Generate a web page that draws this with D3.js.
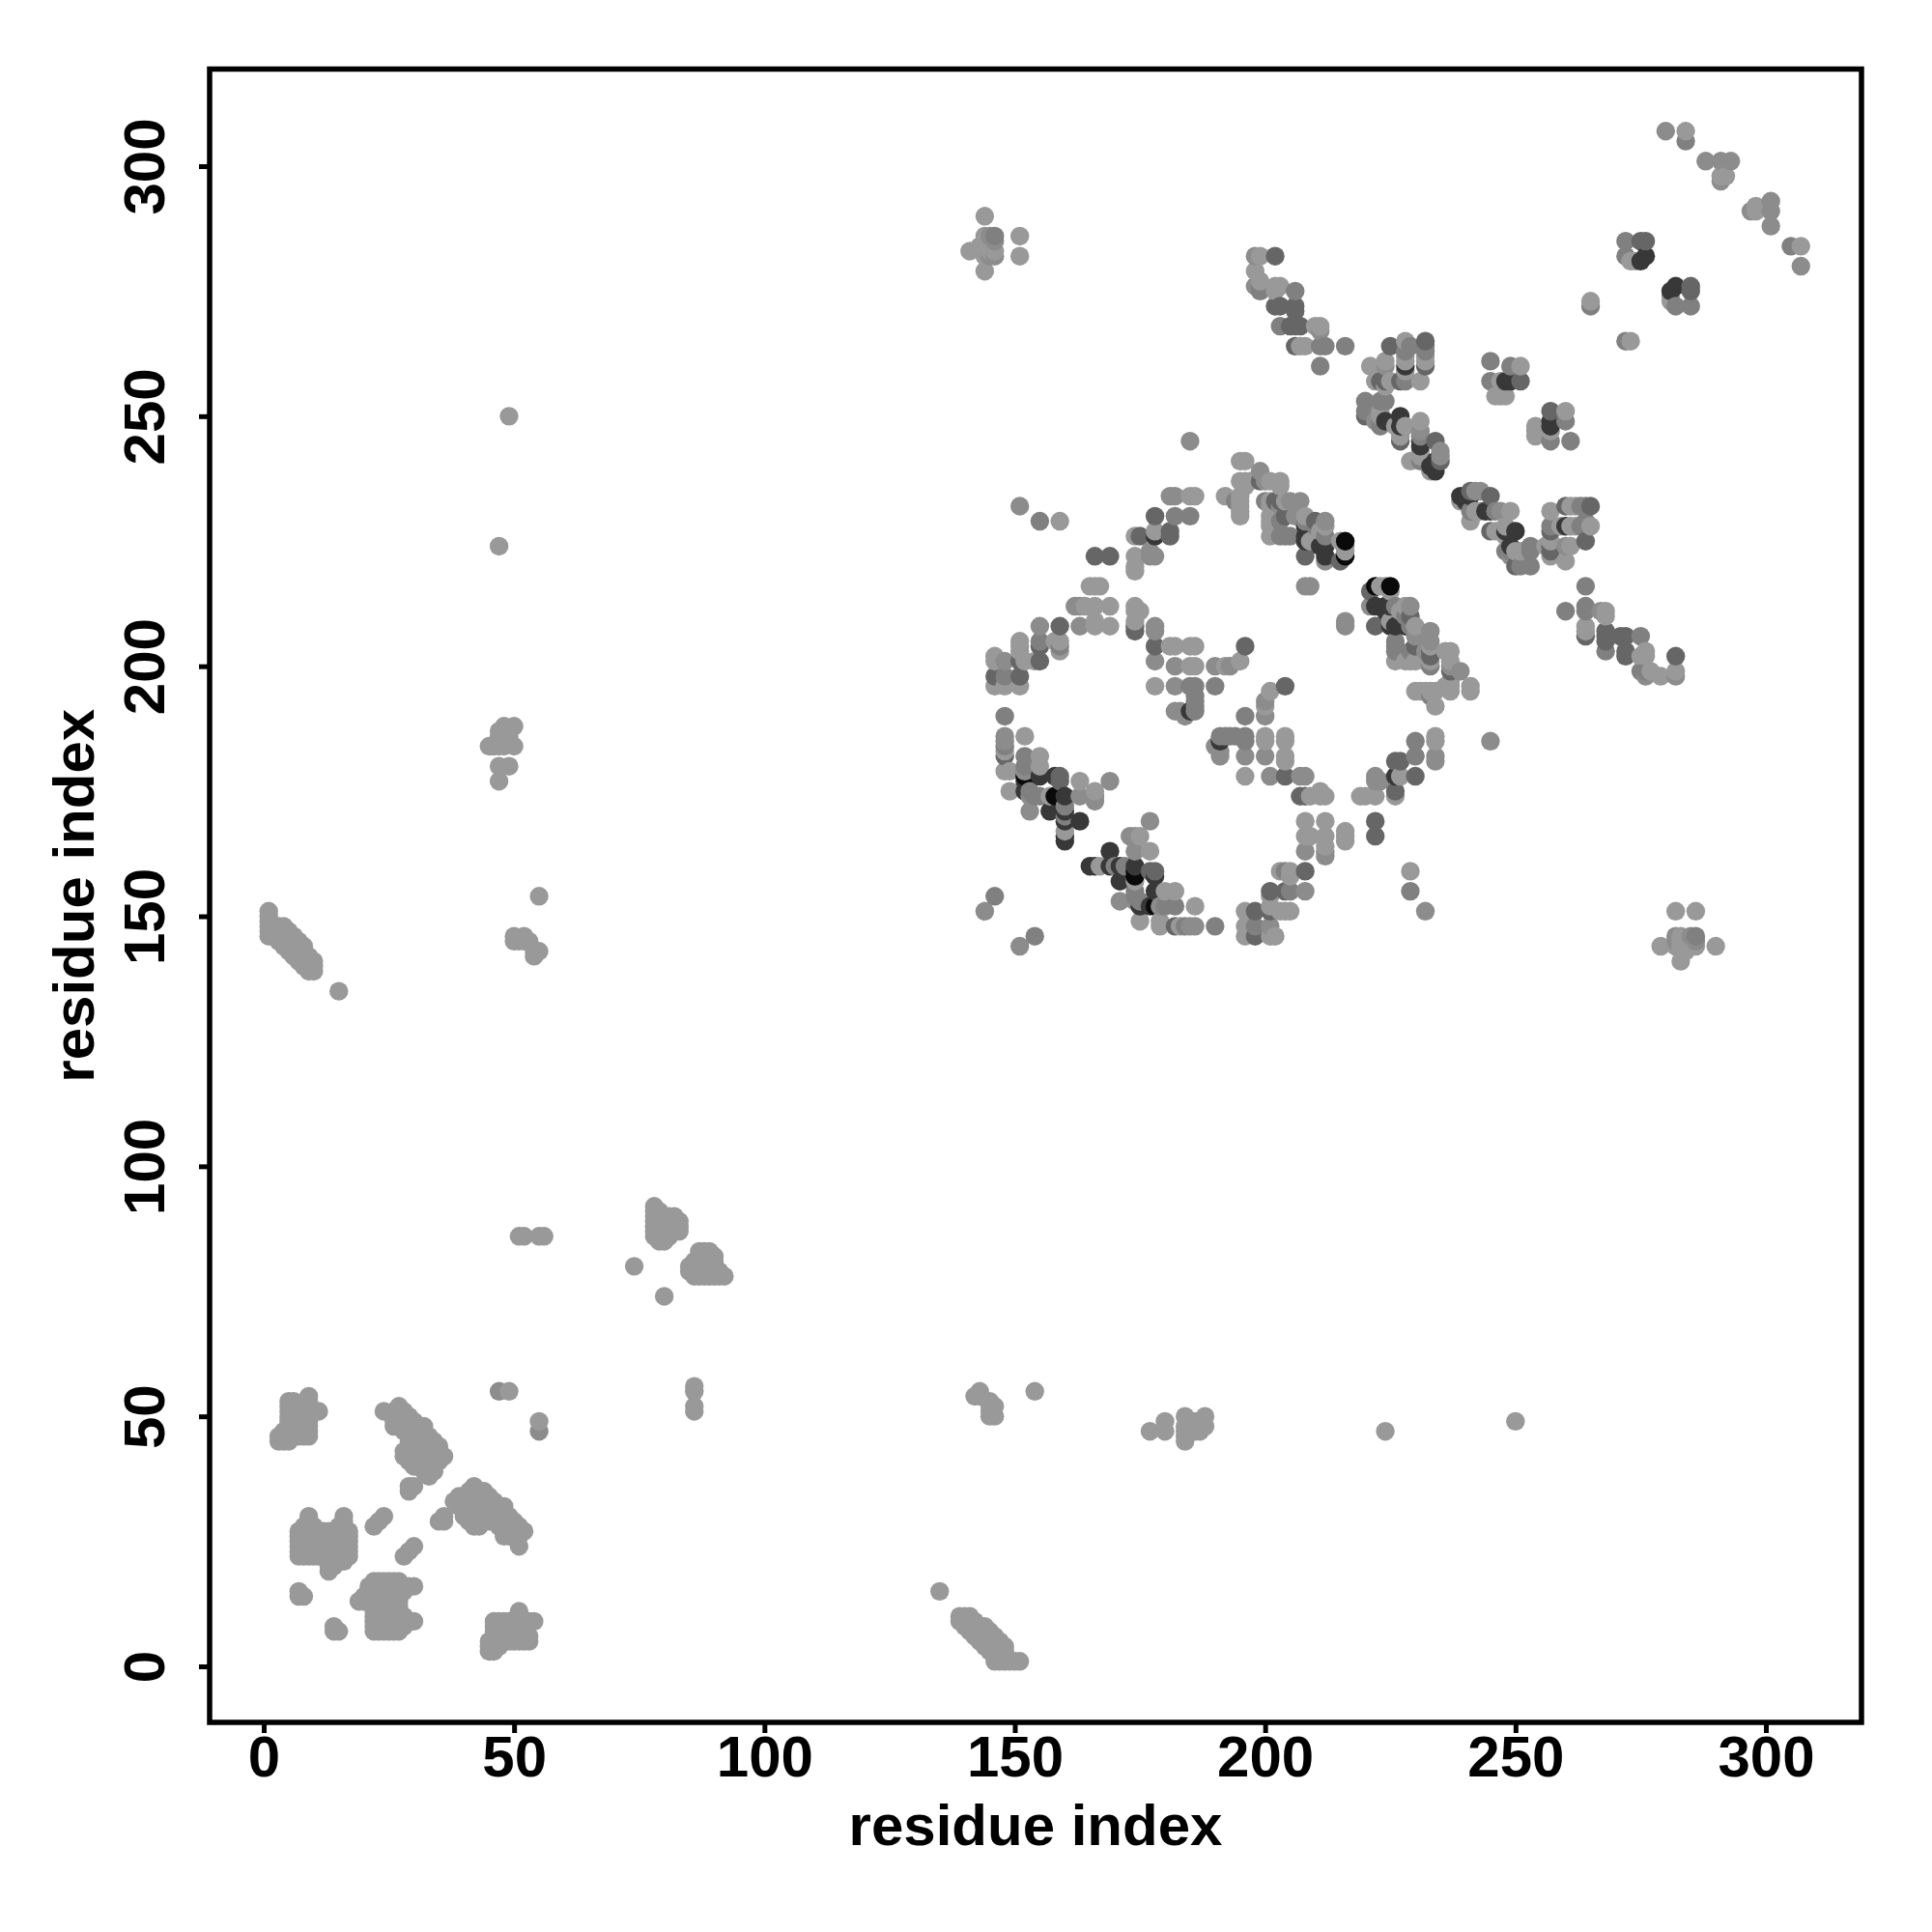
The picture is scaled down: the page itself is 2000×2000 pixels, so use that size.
<!DOCTYPE html>
<html><head><meta charset="utf-8">
<script src="https://cdn.jsdelivr.net/npm/d3@7"></script>
<style>html,body{margin:0;padding:0;background:#fff}</style>
</head><body><svg id="chart" width="2000" height="2000"></svg>
<script>
// Contacts. Each row: residue i, then the residues j in contact with it. The map is symmetric.
const tickValues = [0, 50, 100, 150, 200, 250, 300];
const axisTitle = "residue index";
const tierLevels = [0.6, 0.55, 0.5, 0.4, 0.22, 0.04]; // grey level per contact tier

const tier0 = [
[3,45,46],[4,45,46,47],[5,45,46,47,48,49,50,51,52,53],[6,46,47,48,49,50,51,52,53],[7,46,47,48,49,50,51,52],[8,46,47,48,49,50,51,52],[9,46,47,48,49,50,51,52,53,54],[10,51],[11,51],
[7,14,15,22,23,24,25,26,27],[8,14,22,23,24,25,26,27,28],[9,22,23,24,25,26,27,28,29,30],[10,22,23,24,25,26,27,28],[11,22,23,24,25,26,27],[12,22,23,24,25,26,27],[13,19,20,21,22,23,24,25,26,27],[14,20,21,22,23,24,25,26,27],[15,21,22,23,24,25,26,27,28],[16,21,22,23,24,25,26,27,28,29,30],[17,22,23,24,25,26,27],
[22,28],[23,29],[24,30,51],[26,48,49,50,51],[27,48,49,50,51,52],[28,42,43,47,48,49,50,51],[29,35,36,41,42,43,44,45,46,47,48,49,50],[30,36,40,41,42,43,44,45,46,47,48,49],[31,40,41,42,43,44,45,46,47,48],[32,39,40,41,42,44,45,46,47,48],[33,38,39,40,41,42,43,44,45,46],[34,39,40,41,42,43,44,45],[35,41,42,43,44],[36,42],
[1,146,147,148,149,150,151],[2,146,147,148],[3,145,146,147,148],[4,144,145,146,147,148],[5,143,144,145,146,147],[6,142,143,144,145,146],[7,141,142,143,144,145],[8,140,141,142,143,144],[9,139,140,141,142],[10,139,140,141],[15,135],
[45,184],[46,184],[47,177,180,184,186,187,224],[48,184,185,188],[49,55,180,186,187,250],[50,145,146,184,188],[51,86,145],[52,86,145,146],[53,145],[54,142,143],[55,86,143,154],[56,86],
[74,80],[78,86,87,88,89,90,91,92],[79,85,86,87,88,89,90,91],[80,85,86,87,88,89,90],[81,86,87,88,89,90],[82,87,88,89,90],[83,87,88,89],
[141,283],[143,284],[144,279,282,283,286,290],[145,283,284],[146,283],[151,282,286],
[146,196,201,202],[148,179,183,196],[149,175,179],[151,196,203,204,205],[152,186,201],[154,201],[155,180,182],[157,174],[158,205],[159,203,205,229],[160,167],[163,177],[164,212],[165,216],[166,175,208,209,212,216],[167,216],[169,208,212],[174,209,211,212,219,220,222,226],[175,211],[177,222,223],[178,196],[181,204,234],[182,204,234],[185,200,204,234],[186,200,204,234],
[192,200,234],[195,201,230,231,232,233,234,237,241],[196,236,237,241],[197,237],[201,226,229,230,232,237],[203,237],[204,233],[205,233],[207,233],[208,230],[209,225],[212,228,229],[215,225],[216,223],
[224,216],[227,178,211],[226,201],[228,201,248,259,261,265],[230,195,201,208],[233,195,200,201],[234,185,186,192,195],[236,203],[237,195,196,200,203],[241,195,196],[219,174],[222,174],[226,174],
[198,279],[199,275,277,282],[202,276],[203,276],[207,264],[208,264],[210,268],[211,268],[212,264],
[221,260],[222,257],[223,248,250],[226,248],[225,257],[227,246],[231,243,249,257],[232,261,262],[233,239],[235,243],
[239,233],[241,229],[242,231],[246,227,254],[247,254,257],[248,254],[249,231],[251,220,223,260],[254,246,247,248],[256,224],[257,228,231,247],[260,221,224,251],[261,224],[262,228,232],[265,228,273],
[264,207],[268,210,211],[275,202],[276,198],[279,198],[282,198],[273,265,281],[274,281],[284,307],[292,298],[291,298]
];
const tier1 = [
[47,55],[148,185,186,201],[152,179],[153,171,174],[155,208],[162,212],[163,174,208,212],[166,173,174],[169,177],[151,232],[144,151],[185,245],
[145,282,286],[146,282,285],
[178,201,207,208],[182,191,196,200],[183,191],[184,190],[190,200],[193,200],[199,239],[200,237],[203,232],
[208,216],[209,216],[216,208,209],[221,212],[226,205,212],[229,212],[233,205,207],[230,206],[239,199],[222,177,178],[223,177],[234,181,182],
[198,276,282],[203,268],[216,264],[211,260,267],[224,260],[220,253],[231,247],[242,235],[243,235],[241,231],[249,222],[257,245],[280,307],[288,301],[291,297,301],[293,301]
];
const tier2 = [
[146,154],[155,229],[146,286],[148,184,190],[152,180,182],[153,175],[154,174],[155,174,205],[159,204],[160,170,172],[148,198],
[185,196],[186,191,192,193,194,196],[190,196],[200,233],[205,226],[203,226,229],[208,222,229],[210,228],[212,226],[215,221],
[226,204],[233,194],[230,182,185],
[199,276],[202,272,282],[206,275],[211,264],[229,264],[232,263],[224,253],[227,245],[228,257],[231,241],[220,250,251],
[245,234,257,261],[246,231],[248,223],[253,220,223,224],[264,232,211,212,216],[263,228],[249,223,260],[260,211,249],[257,251],[261,245],
[268,203],[275,199,206],[265,272],[272,265,282,285],[276,285],[282,272],[284,305],[285,272]
];
const tier3 = [
[146,198],[148,182],[151,198,201],[155,201,204],[159,177,178,208],[174,207,208],[178,204],[196,204],[202,233],[204,230],
[221,215],[222,208],[229,210],[233,203],[237,199],[230,204,178],[227,181],[226,181,175],[222,166,169],
[203,272],[206,264,268,271,272],[207,268],[225,264],[232,260,265],[228,260],[224,257],[234,245],[235,241],
[245,227,231],[250,220],[257,223,224,227,249],[260,232],[265,232],[264,206,225],[251,257],
[268,205,206],[272,202,203,206],[282,202],[275,285],[285,275,276]
];
const tier4 = [
[152,175,177],[155,178],[157,171],[158,178],[160,165,166,169,171,174],[163,169],[185,191],
[208,225,228],[211,224],[212,222,224],[222,212],[225,208,212],[226,178,208],[228,208],
[224,249],[227,250],[231,244,245],[234,239],[240,233],[241,234],[248,227],[250,227],[260,228],[249,257],[257,248],[275,281],[276,282],[282,276]
];
const tier5 = [
[152,178],[158,174],[159,174],[216,222,225],[222,216],[225,216]
];

const tiers = [tier0, tier1, tier2, tier3, tier4, tier5];

const svg = d3.select("#chart");
const x = d3.scaleLinear().domain([0, 300]).range([273, 1828]);
const y = d3.scaleLinear().domain([0, 300]).range([1725, 172]);
const frame = {left: 217, right: 1927, top: 71.5, bottom: 1783};
const fontFamily = "'Liberation Sans', Arial, sans-serif";
const fontSize = 60;

const grey = d3.scaleOrdinal().domain(d3.range(tiers.length)).range(tierLevels.map(g => d3.rgb(g * 255, g * 255, g * 255).formatHex()));

// A contact shows on both sides of the diagonal.
const byCell = new Map();
tiers.forEach((rows, tier) => rows.forEach(([i, ...js]) => js.forEach(j => {
  byCell.set(i + "," + j, {i, j, tier});
  byCell.set(j + "," + i, {i: j, j: i, tier});
})));
const points = Array.from(byCell.values()).sort((a, b) => a.i - b.i || a.j - b.j);

svg.append("g").selectAll("circle").data(points).join("circle")
  .attr("cx", d => x(d.i)).attr("cy", d => y(d.j)).attr("r", 9.7)
  .attr("fill", d => grey(d.tier));

svg.append("rect")
  .attr("x", frame.left).attr("y", frame.top)
  .attr("width", frame.right - frame.left).attr("height", frame.bottom - frame.top)
  .attr("fill", "none").attr("stroke", "#000").attr("stroke-width", 5.5);

const xAxis = d3.axisBottom(x).tickValues(tickValues).tickSize(11).tickPadding(0).tickFormat(d3.format("d"));
const yAxis = d3.axisLeft(y).tickValues(tickValues).tickSize(11).tickPadding(0).tickFormat(d3.format("d"));

const gx = svg.append("g").attr("transform", `translate(0,${frame.bottom})`).call(xAxis);
const gy = svg.append("g").attr("transform", `translate(${frame.left},0)`).call(yAxis);
[gx, gy].forEach(g => {
  g.select(".domain").remove();
  g.selectAll("line").attr("stroke", "#000").attr("stroke-width", 5);
  g.selectAll("text").attr("font-family", fontFamily).attr("font-size", fontSize).attr("font-weight", "bold").attr("fill", "#000");
});
gx.selectAll("text").attr("dy", null).attr("y", 56).attr("text-anchor", "middle");
gy.selectAll("text").attr("dy", null).attr("x", null)
  .attr("text-anchor", "middle")
  .attr("transform", "translate(-47,0) rotate(-90)");

svg.append("text").text(axisTitle)
  .attr("x", (frame.left + frame.right) / 2).attr("y", 1910)
  .attr("text-anchor", "middle").attr("font-family", fontFamily).attr("font-size", fontSize).attr("font-weight", "bold");
svg.append("text").text(axisTitle)
  .attr("transform", `translate(97,${(frame.top + frame.bottom) / 2}) rotate(-90)`)
  .attr("text-anchor", "middle").attr("font-family", fontFamily).attr("font-size", fontSize).attr("font-weight", "bold");
</script></body></html>
